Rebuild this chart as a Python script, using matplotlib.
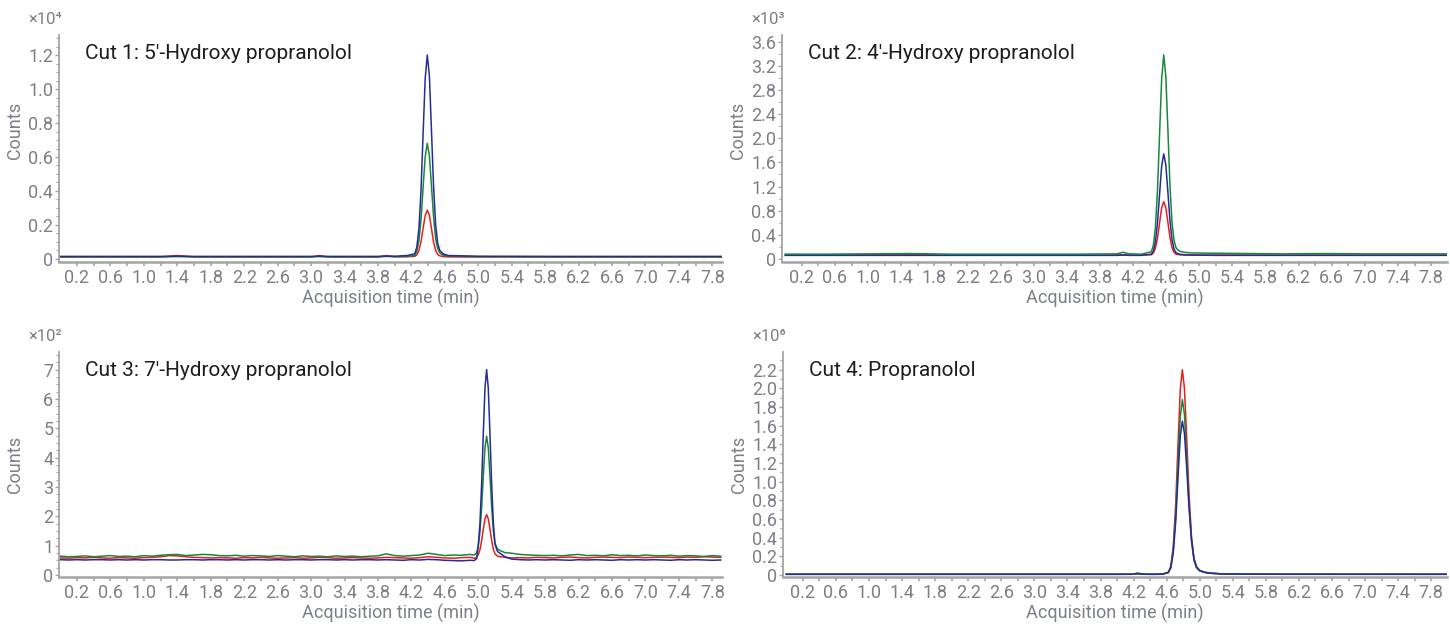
import numpy as np
import matplotlib
matplotlib.use("Agg")
import matplotlib.pyplot as plt
from matplotlib.ticker import MultipleLocator, FixedLocator, FuncFormatter

plt.rcParams['font.family'] = ['Roboto', 'DejaVu Sans']

BLUE, GREEN, RED = '#262b9c', '#17873a', '#ec1c1c'
GREY_TXT, GREY_AX = '#7b8087', '#a4a4a4'

# ---------------- Cut 1 (x10^4) ----------------
t1 = [0.0, 1.2, 1.4, 1.6, 3.0, 3.1, 3.2, 3.8, 3.9, 4.0, 4.15,
      4.24, 4.265, 4.29, 4.315, 4.34, 4.365, 4.39, 4.415, 4.44, 4.465, 4.49, 4.515, 4.54, 4.58, 4.64,
      5.0, 6.0, 7.95]
c1_blue = [0.015, 0.015, 0.016, 0.015, 0.015, 0.016, 0.015, 0.015, 0.016, 0.016, 0.02,
           0.03, 0.07, 0.175, 0.40, 0.735, 1.06, 1.20, 1.08, 0.76, 0.43, 0.20, 0.09, 0.05, 0.03, 0.02,
           0.016, 0.015, 0.015]
c1_green = [0.012, 0.012, 0.014, 0.012, 0.012, 0.014, 0.012, 0.012, 0.015, 0.013, 0.015,
            0.02, 0.045, 0.105, 0.23, 0.42, 0.60, 0.68, 0.61, 0.43, 0.25, 0.12, 0.06, 0.035, 0.022, 0.017,
            0.013, 0.012, 0.012]
c1_red = [0.012, 0.012, 0.02, 0.012, 0.012, 0.02, 0.012, 0.012, 0.02, 0.013, 0.013,
          0.015, 0.024, 0.05, 0.10, 0.18, 0.255, 0.287, 0.258, 0.18, 0.10, 0.05, 0.026, 0.018, 0.014, 0.012,
          0.012, 0.012, 0.012]

# ---------------- Cut 2 (x10^3) ----------------
t2 = [0.0, 0.5, 1.0, 1.5, 2.0, 2.5, 3.0, 3.5, 4.0, 4.08, 4.15, 4.3,
      4.42, 4.445, 4.47, 4.495, 4.52, 4.545, 4.57, 4.595, 4.62, 4.645, 4.67, 4.695, 4.72, 4.76, 4.82,
      4.9, 5.2, 5.6, 6.0, 6.5, 7.0, 7.5, 8.0]
c2_green = [0.08, 0.08, 0.085, 0.09, 0.08, 0.08, 0.08, 0.08, 0.085, 0.11, 0.085, 0.08,
            0.12, 0.23, 0.53, 1.15, 2.08, 2.99, 3.38, 3.02, 2.15, 1.22, 0.60, 0.30, 0.18, 0.13, 0.11,
            0.10, 0.095, 0.09, 0.085, 0.09, 0.085, 0.085, 0.085]
c2_blue = [0.06, 0.06, 0.06, 0.06, 0.06, 0.06, 0.06, 0.06, 0.06, 0.065, 0.06, 0.06,
           0.08, 0.13, 0.29, 0.61, 1.08, 1.54, 1.74, 1.56, 1.11, 0.64, 0.32, 0.16, 0.10, 0.08, 0.07,
           0.065, 0.06, 0.06, 0.06, 0.06, 0.06, 0.06, 0.06]
c2_red = [0.065, 0.065, 0.07, 0.075, 0.065, 0.065, 0.065, 0.065, 0.065, 0.07, 0.065, 0.065,
          0.07, 0.10, 0.18, 0.35, 0.60, 0.85, 0.95, 0.85, 0.61, 0.36, 0.19, 0.11, 0.08, 0.07, 0.065,
          0.065, 0.065, 0.065, 0.065, 0.065, 0.065, 0.065, 0.065]

# ---------------- Cut 3 (x10^2) ----------------
t3_pre = np.round(np.arange(0.0, 4.95, 0.1), 2)
t3_peak = [4.95, 4.98, 5.00, 5.02, 5.04, 5.06, 5.08, 5.10, 5.12, 5.14, 5.16, 5.18, 5.20, 5.23, 5.27, 5.32]
t3_post = np.round(np.arange(5.4, 7.95, 0.1), 2)
t3 = np.concatenate([t3_pre, t3_peak, t3_post])

c3_green = [0.64, 0.62, 0.63, 0.65, 0.62, 0.64, 0.66, 0.63, 0.64, 0.62, 0.66, 0.64, 0.67, 0.69, 0.70,
            0.66, 0.68, 0.70, 0.69, 0.66, 0.65, 0.67, 0.64, 0.66, 0.65, 0.63, 0.66, 0.64, 0.62, 0.65,
            0.63, 0.64, 0.62, 0.65, 0.63, 0.64, 0.62, 0.64, 0.65, 0.72, 0.66, 0.64, 0.66, 0.68, 0.74,
            0.70, 0.66, 0.68, 0.67, 0.70,
            0.68, 0.75, 0.99, 1.45, 2.28, 3.36, 4.33, 4.73, 4.33, 3.38, 2.32, 1.52, 1.08, 0.88, 0.82, 0.76,
            0.74, 0.70, 0.68, 0.67, 0.66, 0.67, 0.65, 0.68, 0.70, 0.66, 0.67, 0.65, 0.69, 0.66, 0.67,
            0.65, 0.68, 0.66, 0.65, 0.67, 0.64, 0.66, 0.65, 0.63, 0.66, 0.64]
c3_red = [0.58, 0.57, 0.59, 0.58, 0.60, 0.58, 0.57, 0.59, 0.58, 0.57, 0.59, 0.60, 0.62, 0.66, 0.65,
          0.62, 0.60, 0.59, 0.58, 0.59, 0.58, 0.57, 0.59, 0.58, 0.60, 0.58, 0.57, 0.58, 0.59, 0.57,
          0.58, 0.60, 0.59, 0.57, 0.58, 0.59, 0.58, 0.57, 0.58, 0.60, 0.59, 0.58, 0.57, 0.59, 0.62,
          0.60, 0.58, 0.57, 0.59, 0.60,
          0.57, 0.60, 0.69, 0.86, 1.16, 1.56, 1.91, 2.06, 1.91, 1.57, 1.18, 0.88, 0.72, 0.64, 0.62, 0.60,
          0.58, 0.59, 0.58, 0.60, 0.59, 0.58, 0.60, 0.61, 0.59, 0.58, 0.60, 0.61, 0.60, 0.59, 0.61,
          0.60, 0.59, 0.60, 0.61, 0.60, 0.59, 0.61, 0.60, 0.62, 0.61, 0.60]
c3_blue = [0.52, 0.51, 0.52, 0.51, 0.52, 0.52, 0.51, 0.52, 0.51, 0.52, 0.51, 0.52, 0.52, 0.51, 0.51,
           0.52, 0.52, 0.51, 0.52, 0.52, 0.51, 0.52, 0.51, 0.52, 0.52, 0.51, 0.52, 0.51, 0.52, 0.52,
           0.51, 0.52, 0.52, 0.51, 0.52, 0.51, 0.52, 0.52, 0.51, 0.52, 0.51, 0.50, 0.52, 0.51, 0.53,
           0.52, 0.50, 0.49, 0.48, 0.50,
           0.49, 0.55, 0.99, 1.74, 3.07, 4.80, 6.36, 7.00, 6.36, 4.80, 3.10, 1.80, 1.05, 0.80, 0.72, 0.62,
           0.54, 0.52, 0.51, 0.52, 0.51, 0.52, 0.51, 0.50, 0.52, 0.51, 0.52, 0.51, 0.50, 0.52, 0.51,
           0.52, 0.51, 0.52, 0.51, 0.50, 0.52, 0.51, 0.52, 0.51, 0.50, 0.51]

# ---------------- Cut 4 (x10^6) ----------------
t4 = [0.0, 2.0, 4.0, 4.18, 4.25, 4.32, 4.45, 4.55,
      4.62, 4.65, 4.68, 4.71, 4.74, 4.765, 4.79, 4.815, 4.84, 4.87, 4.90, 4.93, 4.96, 5.0, 5.06, 5.15,
      5.3, 6.0, 8.0]
c4_red = [0.01, 0.01, 0.01, 0.01, 0.012, 0.01, 0.01, 0.012,
          0.03, 0.095, 0.31, 0.77, 1.46, 1.99, 2.20, 2.00, 1.52, 0.88, 0.42, 0.18, 0.09, 0.05, 0.03, 0.02,
          0.012, 0.01, 0.01]
c4_green = [0.01, 0.01, 0.01, 0.01, 0.012, 0.01, 0.01, 0.012,
            0.025, 0.08, 0.26, 0.66, 1.25, 1.70, 1.88, 1.72, 1.31, 0.77, 0.37, 0.16, 0.08, 0.045, 0.028, 0.018,
            0.012, 0.01, 0.01]
c4_blue = [0.008, 0.008, 0.008, 0.009, 0.022, 0.009, 0.008, 0.01,
           0.03, 0.08, 0.24, 0.58, 1.09, 1.49, 1.65, 1.52, 1.18, 0.73, 0.38, 0.18, 0.09, 0.05, 0.03, 0.02,
           0.012, 0.009, 0.008]

panels = [
    dict(pos=[0.0407, 0.5808, 0.4572, 0.3632], title="Cut 1: 5'-Hydroxy propranolol", exp='⁴',
         t=t1, series=[(c1_red, RED), (c1_green, GREEN), (c1_blue, BLUE)],
         xlim=(-0.015, 7.915), ylim=(-0.018, 1.318), ymaj=0.2, ymin=0.05, fmt='1f', ylab_y=0.58),
    dict(pos=[0.5393, 0.5808, 0.4586, 0.3632], title="Cut 2: 4'-Hydroxy propranolol", exp='³',
         t=t2, series=[(c2_red, RED), (c2_blue, BLUE), (c2_green, GREEN)],
         xlim=(-0.04, 7.99), ylim=(-0.05, 3.71), ymaj=0.4, ymin=0.2, fmt='1f', ylab_y=0.58),
    dict(pos=[0.0407, 0.0768, 0.4572, 0.36], title="Cut 3: 7'-Hydroxy propranolol", exp='²',
         t=t3, series=[(c3_red, RED), (c3_green, GREEN), (c3_blue, BLUE)],
         xlim=(-0.015, 7.915), ylim=(-0.07, 7.6), ymaj=1.0, ymin=0.25, fmt='0f', ylab_y=0.5),
    dict(pos=[0.5400, 0.0768, 0.4579, 0.36], title="Cut 4: Propranolol", exp='⁶',
         t=t4, series=[(c4_red, RED), (c4_green, GREEN), (c4_blue, BLUE)],
         xlim=(-0.04, 7.99), ylim=(-0.02, 2.39), ymaj=0.2, ymin=0.1, fmt='1f', ylab_y=0.5),
]

xmajor = np.round(np.arange(0.2, 7.85, 0.4), 1)
xminor = np.round(np.arange(0.4, 7.85, 0.4), 1)

fig = plt.figure(figsize=(14.5, 6.25), dpi=100)

for p in panels:
    ax = fig.add_axes(p['pos'])
    for vals, col in p['series']:
        ax.plot(p['t'], vals, color=col, lw=1.1)
    ax.set_xlim(*p['xlim'])
    ax.set_ylim(*p['ylim'])

    for s in ['top', 'right']:
        ax.spines[s].set_visible(False)
    ax.spines['left'].set_color(GREY_AX)
    ax.spines['bottom'].set_color(GREY_AX)
    ax.spines['left'].set_linewidth(1.3)
    ax.spines['bottom'].set_linewidth(1.8)

    ax.xaxis.set_major_locator(FixedLocator(xmajor))
    ax.xaxis.set_minor_locator(FixedLocator(xminor))
    ax.xaxis.set_major_formatter(FuncFormatter(lambda v, pos: f'{v:.1f}'))
    ax.yaxis.set_major_locator(MultipleLocator(p['ymaj']))
    ax.yaxis.set_minor_locator(MultipleLocator(p['ymin']))
    dec = 1 if p['fmt'] == '1f' else 0
    ax.yaxis.set_major_formatter(FuncFormatter(
        lambda v, pos, d=dec: '0' if abs(v) < 1e-9 else f'{v:.{d}f}'))

    ax.tick_params(axis='both', which='both', colors=GREY_AX, labelcolor=GREY_TXT,
                   labelsize=13, direction='out')
    ax.tick_params(axis='x', which='major', length=3, width=1.2, pad=2)
    ax.tick_params(axis='x', which='minor', length=3, width=1.2)
    ax.tick_params(axis='y', which='major', length=3, width=1.0, pad=1)
    ax.tick_params(axis='y', which='minor', length=2, width=0.8)

    ax.set_xlabel('Acquisition time (min)', fontsize=13, color=GREY_TXT, labelpad=1)
    ax.set_ylabel('Counts', fontsize=13, color=GREY_TXT)
    ax.yaxis.set_label_coords(-0.053, p['ylab_y'])

    ax.text(0.039, 0.92, p['title'], transform=ax.transAxes, fontsize=15,
            color='#1e1e1e', va='center', ha='left')
    ax.text(0.004, 1.035, '×10' + p['exp'], transform=ax.transAxes, fontsize=12,
            color=GREY_TXT, va='bottom', ha='right', family=['Roboto', 'DejaVu Sans'])

fig.savefig('out.png', dpi=100)
